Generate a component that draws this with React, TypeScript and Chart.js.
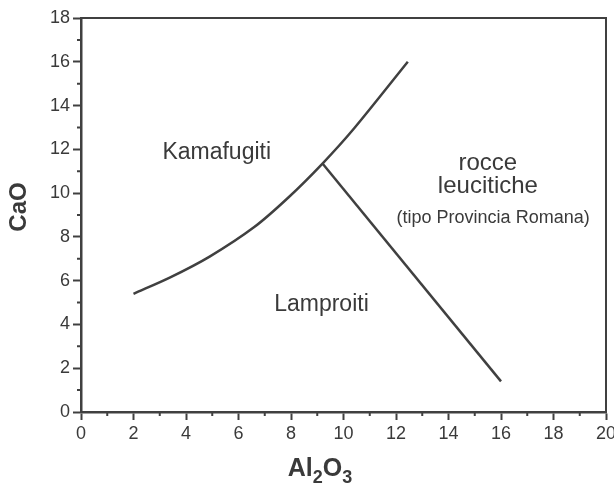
import React, { useEffect, useRef } from "react";
import { Chart, registerables } from "chart.js";

Chart.register(...registerables);

// Boundary 1: Kamafugiti / Lamproiti curve
const curveX = [2, 3.4, 4.9, 6.6, 7.9, 9.2, 10.4, 12.45];
const curveY = [5.4, 6.15, 7.1, 8.45, 9.8, 11.35, 12.95, 16.0];
// Boundary 2: Lamproiti / rocce leucitiche line
const lineX = [9.2, 16];
const lineY = [11.35, 1.4];

// Axis ranges
const xMin = 0, xMax = 20, xStep = 2;
const yMin = 0, yMax = 18, yStep = 2;

// Field labels (text, x, y in data units)
const labelTexts = ["Kamafugiti", "Lamproiti", "rocce", "leucitiche", "(tipo Provincia Romana)"];
const labelX = [5.17, 9.16, 15.5, 15.5, 15.7];
const labelY = [11.85, 4.9, 11.35, 10.3, 8.85];
const labelSize = [23, 23, 24, 24, 18];

const FONT = "'Liberation Sans', Arial, Helvetica, sans-serif";
const INK = "#3a3a3a";
const LINE = "#404040";

const decorPlugin = {
  id: "decor",
  afterDraw(chart: any) {
    const { ctx, chartArea } = chart;
    const xs = chart.scales.x;
    const ys = chart.scales.y;
    ctx.save();
    // top and right frame
    ctx.strokeStyle = LINE;
    ctx.lineWidth = 2;
    ctx.beginPath();
    ctx.moveTo(chartArea.left, chartArea.top);
    ctx.lineTo(chartArea.right, chartArea.top);
    ctx.lineTo(chartArea.right, chartArea.bottom);
    ctx.stroke();
    // minor ticks
    ctx.lineWidth = 2;
    ctx.beginPath();
    for (let v = xMin + 1; v < xMax; v += 2) {
      const px = xs.getPixelForValue(v);
      ctx.moveTo(px, chartArea.bottom);
      ctx.lineTo(px, chartArea.bottom + 4);
    }
    for (let v = yMin + 1; v < yMax; v += 2) {
      const py = ys.getPixelForValue(v);
      ctx.moveTo(chartArea.left, py);
      ctx.lineTo(chartArea.left - 4, py);
    }
    ctx.stroke();
    // field labels
    ctx.fillStyle = INK;
    ctx.textAlign = "center";
    ctx.textBaseline = "middle";
    for (let i = 0; i < labelTexts.length; i++) {
      ctx.font = `${labelSize[i]}px ${FONT}`;
      ctx.fillText(labelTexts[i], xs.getPixelForValue(labelX[i]), ys.getPixelForValue(labelY[i]));
    }
    // y axis title
    ctx.save();
    ctx.translate(19, 207);
    ctx.rotate(-Math.PI / 2);
    ctx.font = `bold 24px ${FONT}`;
    ctx.textAlign = "center";
    ctx.textBaseline = "middle";
    ctx.fillText("CaO", 0, 0);
    ctx.restore();
    // x axis title Al2O3 with subscripts
    const parts: [string, boolean][] = [["Al", false], ["2", true], ["O", false], ["3", true]];
    const big = `bold 25px ${FONT}`;
    const small = `bold 18px ${FONT}`;
    let total = 0;
    for (const [t, sub] of parts) {
      ctx.font = sub ? small : big;
      total += ctx.measureText(t).width;
    }
    let cx = 320 - total / 2;
    const base = 476;
    ctx.textAlign = "left";
    ctx.textBaseline = "alphabetic";
    for (const [t, sub] of parts) {
      ctx.font = sub ? small : big;
      ctx.fillText(t, cx, sub ? base + 7 : base);
      cx += ctx.measureText(t).width;
    }
    ctx.restore();
  },
};

export default function App() {
  const ref = useRef<HTMLCanvasElement>(null);
  useEffect(() => {
    document.body.style.margin = "0";
    const canvas = ref.current!;
    const curve = curveX.map((x, i) => ({ x, y: curveY[i] }));
    const line = lineX.map((x, i) => ({ x, y: lineY[i] }));
    const tickFont = { family: FONT, size: 18 };
    const chart = new Chart(canvas, {
      type: "scatter",
      data: {
        datasets: [
          { data: curve, showLine: true, borderColor: LINE, borderWidth: 2.5, pointRadius: 0, tension: 0.3 } as any,
          { data: line, showLine: true, borderColor: LINE, borderWidth: 2.5, pointRadius: 0 } as any,
        ],
      },
      options: {
        responsive: false,
        animation: false,
        events: [],
        layout: { padding: { top: 18, right: 8, left: 0, bottom: 0 } },
        plugins: { legend: { display: false }, tooltip: { enabled: false } },
        scales: {
          x: {
            type: "linear",
            min: xMin,
            max: xMax,
            ticks: { stepSize: xStep, font: tickFont, color: INK, padding: 3, maxRotation: 0 },
            grid: { display: true, drawOnChartArea: false, drawTicks: true, tickLength: 8, tickWidth: 2, tickColor: LINE },
            border: { display: true, color: LINE, width: 2.5 },
            afterFit: (s: any) => { s.height = 75; s.paddingRight = 0; s.paddingLeft = 0; },
          },
          y: {
            type: "linear",
            min: yMin,
            max: yMax,
            ticks: { stepSize: yStep, font: tickFont, color: INK, padding: 3 },
            grid: { display: true, drawOnChartArea: false, drawTicks: true, tickLength: 8, tickWidth: 2, tickColor: LINE },
            border: { display: true, color: LINE, width: 2.5 },
            afterFit: (s: any) => { s.width = 81; s.paddingTop = 0; s.paddingBottom = 0; },
          },
        },
      },
      plugins: [decorPlugin],
    });
    return () => chart.destroy();
  }, []);
  return (
    <div style={{ width: 614, height: 487, background: "#fff" }}>
      <canvas ref={ref} width={614} height={487} />
    </div>
  );
}
